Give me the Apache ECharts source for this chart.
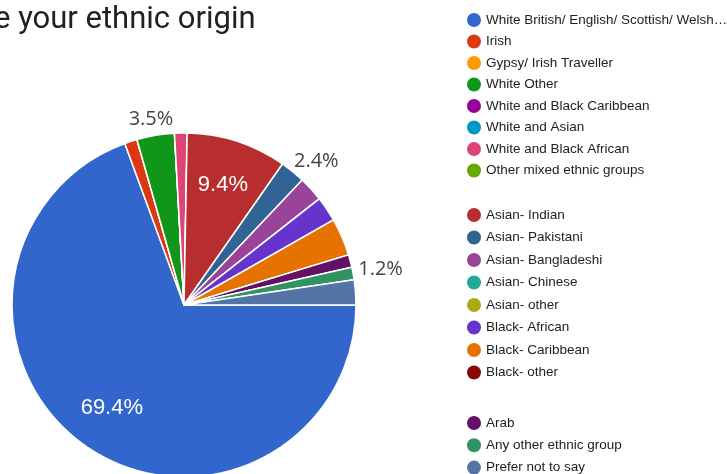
<!DOCTYPE html>
<html>
<head>
<meta charset="utf-8">
<title>Ethnic origin</title>
<script src="https://cdn.jsdelivr.net/npm/echarts@6/dist/echarts.min.js"></script>
<style>
  html, body { margin: 0; padding: 0; background: #ffffff; }
  #chart { width: 727px; height: 474px; }
</style>
</head>
<body>
<div id="chart"></div>
<script>
// Answer options, in form order
const categories = [
  'White British/ English/ Scottish/ Welsh…',
  'Irish',
  'Gypsy/ Irish Traveller',
  'White Other',
  'White and Black Caribbean',
  'White and Asian',
  'White and Black African',
  'Other mixed ethnic groups',
  'Asian- Indian',
  'Asian- Pakistani',
  'Asian- Bangladeshi',
  'Asian- Chinese',
  'Asian- other',
  'Black- African',
  'Black- Caribbean',
  'Black- other',
  'Arab',
  'Any other ethnic group',
  'Prefer not to say'
];

// Number of responses per option
const responses = [59, 1, 0, 3, 0, 0, 1, 0, 8, 2, 2, 0, 0, 2, 3, 0, 1, 1, 2];

const sliceColors = [
  '#3366cc', '#dc3912', '#ff9900', '#109618', '#990099', '#0099c6',
  '#dd4477', '#66aa00', '#b82e2e', '#316395', '#994499', '#22aa99',
  '#aaaa11', '#6633cc', '#e67300', '#8b0707', '#651067', '#329262',
  '#5574a6'
];

// Legend blocks
const legendBlocks = [categories.slice(0, 8), categories.slice(8, 16), categories.slice(16)];

const total = responses.reduce((a, b) => a + b, 0);
const pct = v => (v / total * 100).toFixed(1) + '%';

// slices labelled outside the pie: index -> label line length / text gap
const outerLabels = {
  3: { len: 15.9, gap: -20.4 },
  9: { len: 13.8, gap: -7.4 },
  17: { len: 25, gap: -19.4 }
};
// slices labelled inside the pie
const innerLabels = [0, 8];

const CENTER = [184, 305];
const RADIUS = 172;

const mainData = categories.map((name, i) => {
  const item = { name, value: responses[i], itemStyle: { color: sliceColors[i] } };
  const o = outerLabels[i];
  if (o) {
    item.label = {
      show: true, position: 'outside',
      fontFamily: 'Open Sans', fontSize: 20, color: '#444444',
      distanceToLabelLine: o.gap,
      formatter: p => pct(p.value)
    };
    item.labelLine = { show: false, length: o.len, length2: 0 };
  }
  return item;
});

const innerData = categories.map((name, i) => {
  const item = { name, value: responses[i] };
  if (innerLabels.indexOf(i) >= 0) {
    item.label = {
      show: true, position: 'inside',
      fontFamily: 'Liberation Sans', fontSize: 22, color: '#ffffff',
      formatter: p => pct(p.value)
    };
  }
  return item;
});

const legendTops = [13, 208, 416];
const legendGaps = [7.5, 8.5, 8.3];

const chart = echarts.init(document.getElementById('chart'), null, { renderer: 'canvas' });

chart.setOption({
  animation: false,
  backgroundColor: '#ffffff',
  title: {
    text: 'e your ethnic origin',
    left: -6,
    top: 5,
    padding: 0,
    textStyle: {
      fontFamily: 'Roboto', fontSize: 31, fontWeight: 'normal',
      color: '#202124', lineHeight: 31
    }
  },
  legend: legendBlocks.map((names, k) => ({
    data: names,
    orient: 'vertical',
    left: 467,
    top: legendTops[k],
    height: 200,
    padding: 0,
    itemGap: legendGaps[k],
    itemWidth: 14,
    itemHeight: 14,
    icon: 'circle',
    itemStyle: { borderWidth: 0 },
    selectedMode: false,
    textStyle: { fontFamily: 'Liberation Sans', fontSize: 13.5, color: '#222222', lineHeight: 14 }
  })),
  series: [
    {
      type: 'pie',
      center: CENTER,
      radius: [0, RADIUS],
      startAngle: 0,
      clockwise: true,
      avoidLabelOverlap: false,
      itemStyle: { borderColor: '#ffffff', borderWidth: 1.5 },
      label: { show: false },
      labelLine: { show: false },
      emphasis: { disabled: true },
      data: mainData
    },
    {
      // transparent companion pie that carries the in-slice percentages
      type: 'pie',
      center: CENTER,
      radius: [0, 246],
      startAngle: 0,
      clockwise: true,
      silent: true,
      avoidLabelOverlap: false,
      itemStyle: { color: 'rgba(0,0,0,0)', borderWidth: 0 },
      label: { show: false },
      labelLine: { show: false },
      emphasis: { disabled: true },
      data: innerData
    }
  ]
});
</script>
</body>
</html>
